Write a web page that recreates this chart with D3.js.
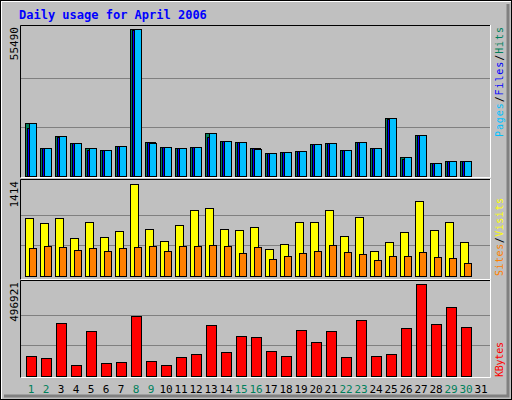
<!DOCTYPE html>
<html><head><meta charset="utf-8">
<script src="https://cdn.jsdelivr.net/npm/d3@7"></script>
<style>body{margin:0;background:#fff}</style>
</head><body><div id="chart"></div>
<script>
var days = d3.range(1, 32);
var weekend = [1, 2, 8, 9, 15, 16, 22, 23, 29, 30];
var hits = [20087,10671,15190,12554,10671,9918,11424,55490,12931,11048,10671,11048,16320,13307,12931,10671,8788,9164,9541,12177,12554,9918,12931,10671,21970,7281,15567,5022,5775,5775];
var files = [18300,10500,14900,12300,9700,9800,11200,55000,12700,10900,10500,10900,14800,13100,12700,10500,8700,9000,9400,12000,12400,9800,12700,10500,21700,6300,15300,4900,5700,5700];
var pages = [20087,10671,15190,12554,10671,9918,11424,55490,12555,11048,10671,11048,16320,13307,12931,10295,8788,9164,9541,12177,12554,9918,12931,10671,21970,7281,15567,5022,5775,5775];
var visits = [893,817,893,587,832,602,694,1414,725,541,786,1016,1047,725,710,756,419,495,832,832,1016,618,909,388,526,679,1154,710,832,526];
var sites = [434,465,449,403,434,388,434,449,465,388,465,465,480,465,357,449,265,311,357,388,480,373,342,250,311,311,373,296,281,204];
var kbytes = [110630,99748,284735,61662,241209,72544,77985,322821,83426,61662,105189,121511,273854,126952,214005,208564,132393,110630,246650,181360,241209,105189,301058,110630,121511,257531,496921,279294,371788,262972];

var svg = d3.select("#chart").append("svg").attr("width", 512).attr("height", 400);
var font = "DejaVu Sans Mono, monospace";

// background + bevelled frame
svg.append("rect").attr("width", 512).attr("height", 400).attr("fill", "#c0c0c0");
svg.append("path").attr("d", "M1,399V1H511").attr("fill", "none").attr("stroke", "#fff").attr("stroke-width", 2);
svg.append("path").attr("d", "M4,396H508V4").attr("fill", "none").attr("stroke", "#808080").attr("stroke-width", 3);
svg.append("rect").attr("x", 0.5).attr("y", 0.5).attr("width", 511).attr("height", 399).attr("fill", "none").attr("stroke", "#000");

svg.append("text").attr("x", 19).attr("y", 19).attr("font-family", font).attr("font-weight", "bold")
  .attr("font-size", 12).attr("fill", "#0000ff").text("Daily usage for April 2006");

var x = d3.scaleLinear().domain([1, 31]).range([25, 475]);

function panel(top, bottom, base, maxTop, max, label, legend) {
  var y = d3.scaleLinear().domain([0, max]).range([base, maxTop]);
  svg.append("path").attr("d", `M20.5,${bottom}V${top + 0.5}H490`).attr("fill", "none").attr("stroke", "#000");
  svg.append("path").attr("d", `M20.5,${bottom - 0.5}H490.5V${top}`).attr("fill", "none").attr("stroke", "#fff");
  [max / 3, max * 2 / 3].forEach(function(v) {
    svg.append("line").attr("x1", 21).attr("x2", 490).attr("y1", Math.round(y(v)) + 0.5).attr("y2", Math.round(y(v)) + 0.5)
      .attr("stroke", "#808080");
  });
  svg.append("text").attr("transform", `translate(18,${top + 2}) rotate(-90)`).attr("text-anchor", "end")
    .attr("font-family", font).attr("font-size", 11).attr("fill", "#000").text(label);
  var t = svg.append("text").attr("transform", `translate(503,${legend.y}) rotate(-90)`)
    .attr("font-family", font).attr("font-size", 10)
    .attr("textLength", legend.len).attr("lengthAdjust", "spacing");
  legend.parts.forEach(function(p) { t.append("tspan").attr("fill", p[1]).text(p[0]); });
  return y;
}

function bars(y, data, dx, w, color) {
  svg.append("g").selectAll("rect").data(data).enter().append("rect")
    .attr("x", (d, i) => x(i + 1) + dx + 0.5)
    .attr("y", d => Math.round(y(d)) + 0.5)
    .attr("width", w)
    .attr("height", d => y(0) - Math.round(y(d)))
    .attr("fill", color).attr("stroke", "#000");
}

var y1 = panel(25, 178, 176, 29, 55490, "55490",
  {y: 137, len: 110, parts: [["Pages", "#00c0ff"], ["/", "#000"], ["Files", "#0000ff"], ["/", "#000"], ["Hits", "#00805c"]]});
bars(y1, hits, 0, 8, "#00805c");
bars(y1, files, 2, 8, "#0000ff");
bars(y1, pages, 4, 7, "#00c0ff");

var y2 = panel(179, 280, 276, 184, 1414, "1414",
  {y: 276, len: 78, parts: [["Sites", "#ff8000"], ["/", "#000"], ["Visits", "#ffff00"]]});
bars(y2, visits, 0, 8, "#ffff00");
bars(y2, sites, 4, 7, "#ff8000");

var y3 = panel(280, 378, 376, 284, 496921, "496921",
  {y: 377, len: 35, parts: [["KBytes", "#ff0000"]]});
bars(y3, kbytes, 1, 10, "#ff0000");

svg.append("g").selectAll("text").data(days).enter().append("text")
  .attr("x", d => x(d) + 6).attr("y", 393).attr("text-anchor", "middle")
  .attr("font-family", font).attr("font-size", 11)
  .attr("fill", d => weekend.indexOf(d) >= 0 ? "#00805c" : "#000")
  .text(d => d);
</script></body></html>
